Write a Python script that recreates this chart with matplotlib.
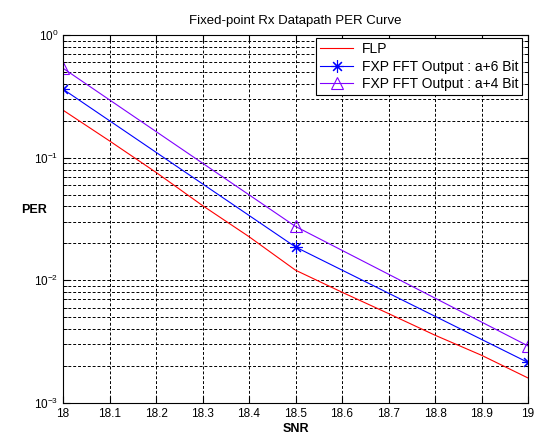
import matplotlib
matplotlib.use("Agg")
import matplotlib.pyplot as plt
from matplotlib.ticker import LogLocator, NullFormatter

plt.rcParams["font.family"] = ["Liberation Sans", "DejaVu Sans"]

# Data
snr_flp = [18.0, 18.1, 18.2, 18.3, 18.4, 18.5, 18.6, 18.7, 18.8, 18.9, 19.0]
per_flp = [0.244, 0.137, 0.0759, 0.0407, 0.0227, 0.0121, 0.0080, 0.00536, 0.00357, 0.00245, 0.0016]

snr_fxp = [18.0, 18.5, 19.0]
per_fxp6 = [0.362, 0.0187, 0.00214]
per_fxp4 = [0.536, 0.0275, 0.00292]

labels = ["FLP", "FXP FFT Output : a+6 Bit", "FXP FFT Output : a+4 Bit"]
xticks = [18, 18.1, 18.2, 18.3, 18.4, 18.5, 18.6, 18.7, 18.8, 18.9, 19]

fig = plt.figure(figsize=(5.42, 4.40), dpi=100)
ax = fig.add_axes([63 / 542, 1 - 403 / 440, (528 - 63) / 542, (403 - 35) / 440])

ax.semilogy(snr_flp, per_flp, color="red", linewidth=0.8, label=labels[0])
ax.semilogy(snr_fxp, per_fxp6, color="blue", linewidth=0.8, marker=(8, 2, 0),
            markersize=9, markeredgewidth=0.8, label=labels[1])
ax.semilogy(snr_fxp, per_fxp4, color="#8000ff", linewidth=0.8, marker="^",
            markersize=9, markerfacecolor="none", markeredgewidth=0.8, label=labels[2])

ax.set_xlim(18, 19)
ax.set_ylim(1e-3, 1)
ax.set_xticks(xticks)
ax.set_xticklabels([f"{t:g}" for t in xticks])
ax.yaxis.set_major_locator(LogLocator(base=10, numticks=10))
ax.yaxis.set_minor_locator(LogLocator(base=10, subs=range(2, 10), numticks=20))
ax.yaxis.set_minor_formatter(NullFormatter())

dash = (0, (3, 2))
ax.grid(True, which="major", axis="both", color="black", linestyle=dash, linewidth=0.7)
ax.grid(True, which="minor", axis="y", color="black", linestyle=dash, linewidth=0.7)
ax.tick_params(which="both", direction="in", top=True, right=True, labelsize=8.5)
ax.tick_params(which="major", length=5)
ax.tick_params(which="minor", length=3)
for s in ax.spines.values():
    s.set_linewidth(0.8)

ax.set_title("Fixed-point Rx Datapath PER Curve", fontsize=9.5, pad=8)
ax.set_xlabel("SNR", fontsize=9, fontweight="bold", labelpad=2)
ax.set_ylabel("PER", fontsize=9, fontweight="bold", rotation=0, va="center", ha="center")
ax.yaxis.set_label_coords(-29 / 465, (403 - 210) / 368)

leg = ax.legend(loc="upper right", bbox_to_anchor=(0.988, 0.992), borderaxespad=0,
                fancybox=False, framealpha=1, edgecolor="black", fontsize=10,
                handlelength=2.4, handletextpad=0.6, borderpad=0.3, labelspacing=0.25)
leg.get_frame().set_linewidth(0.8)

fig.savefig("out.png", dpi=100)
